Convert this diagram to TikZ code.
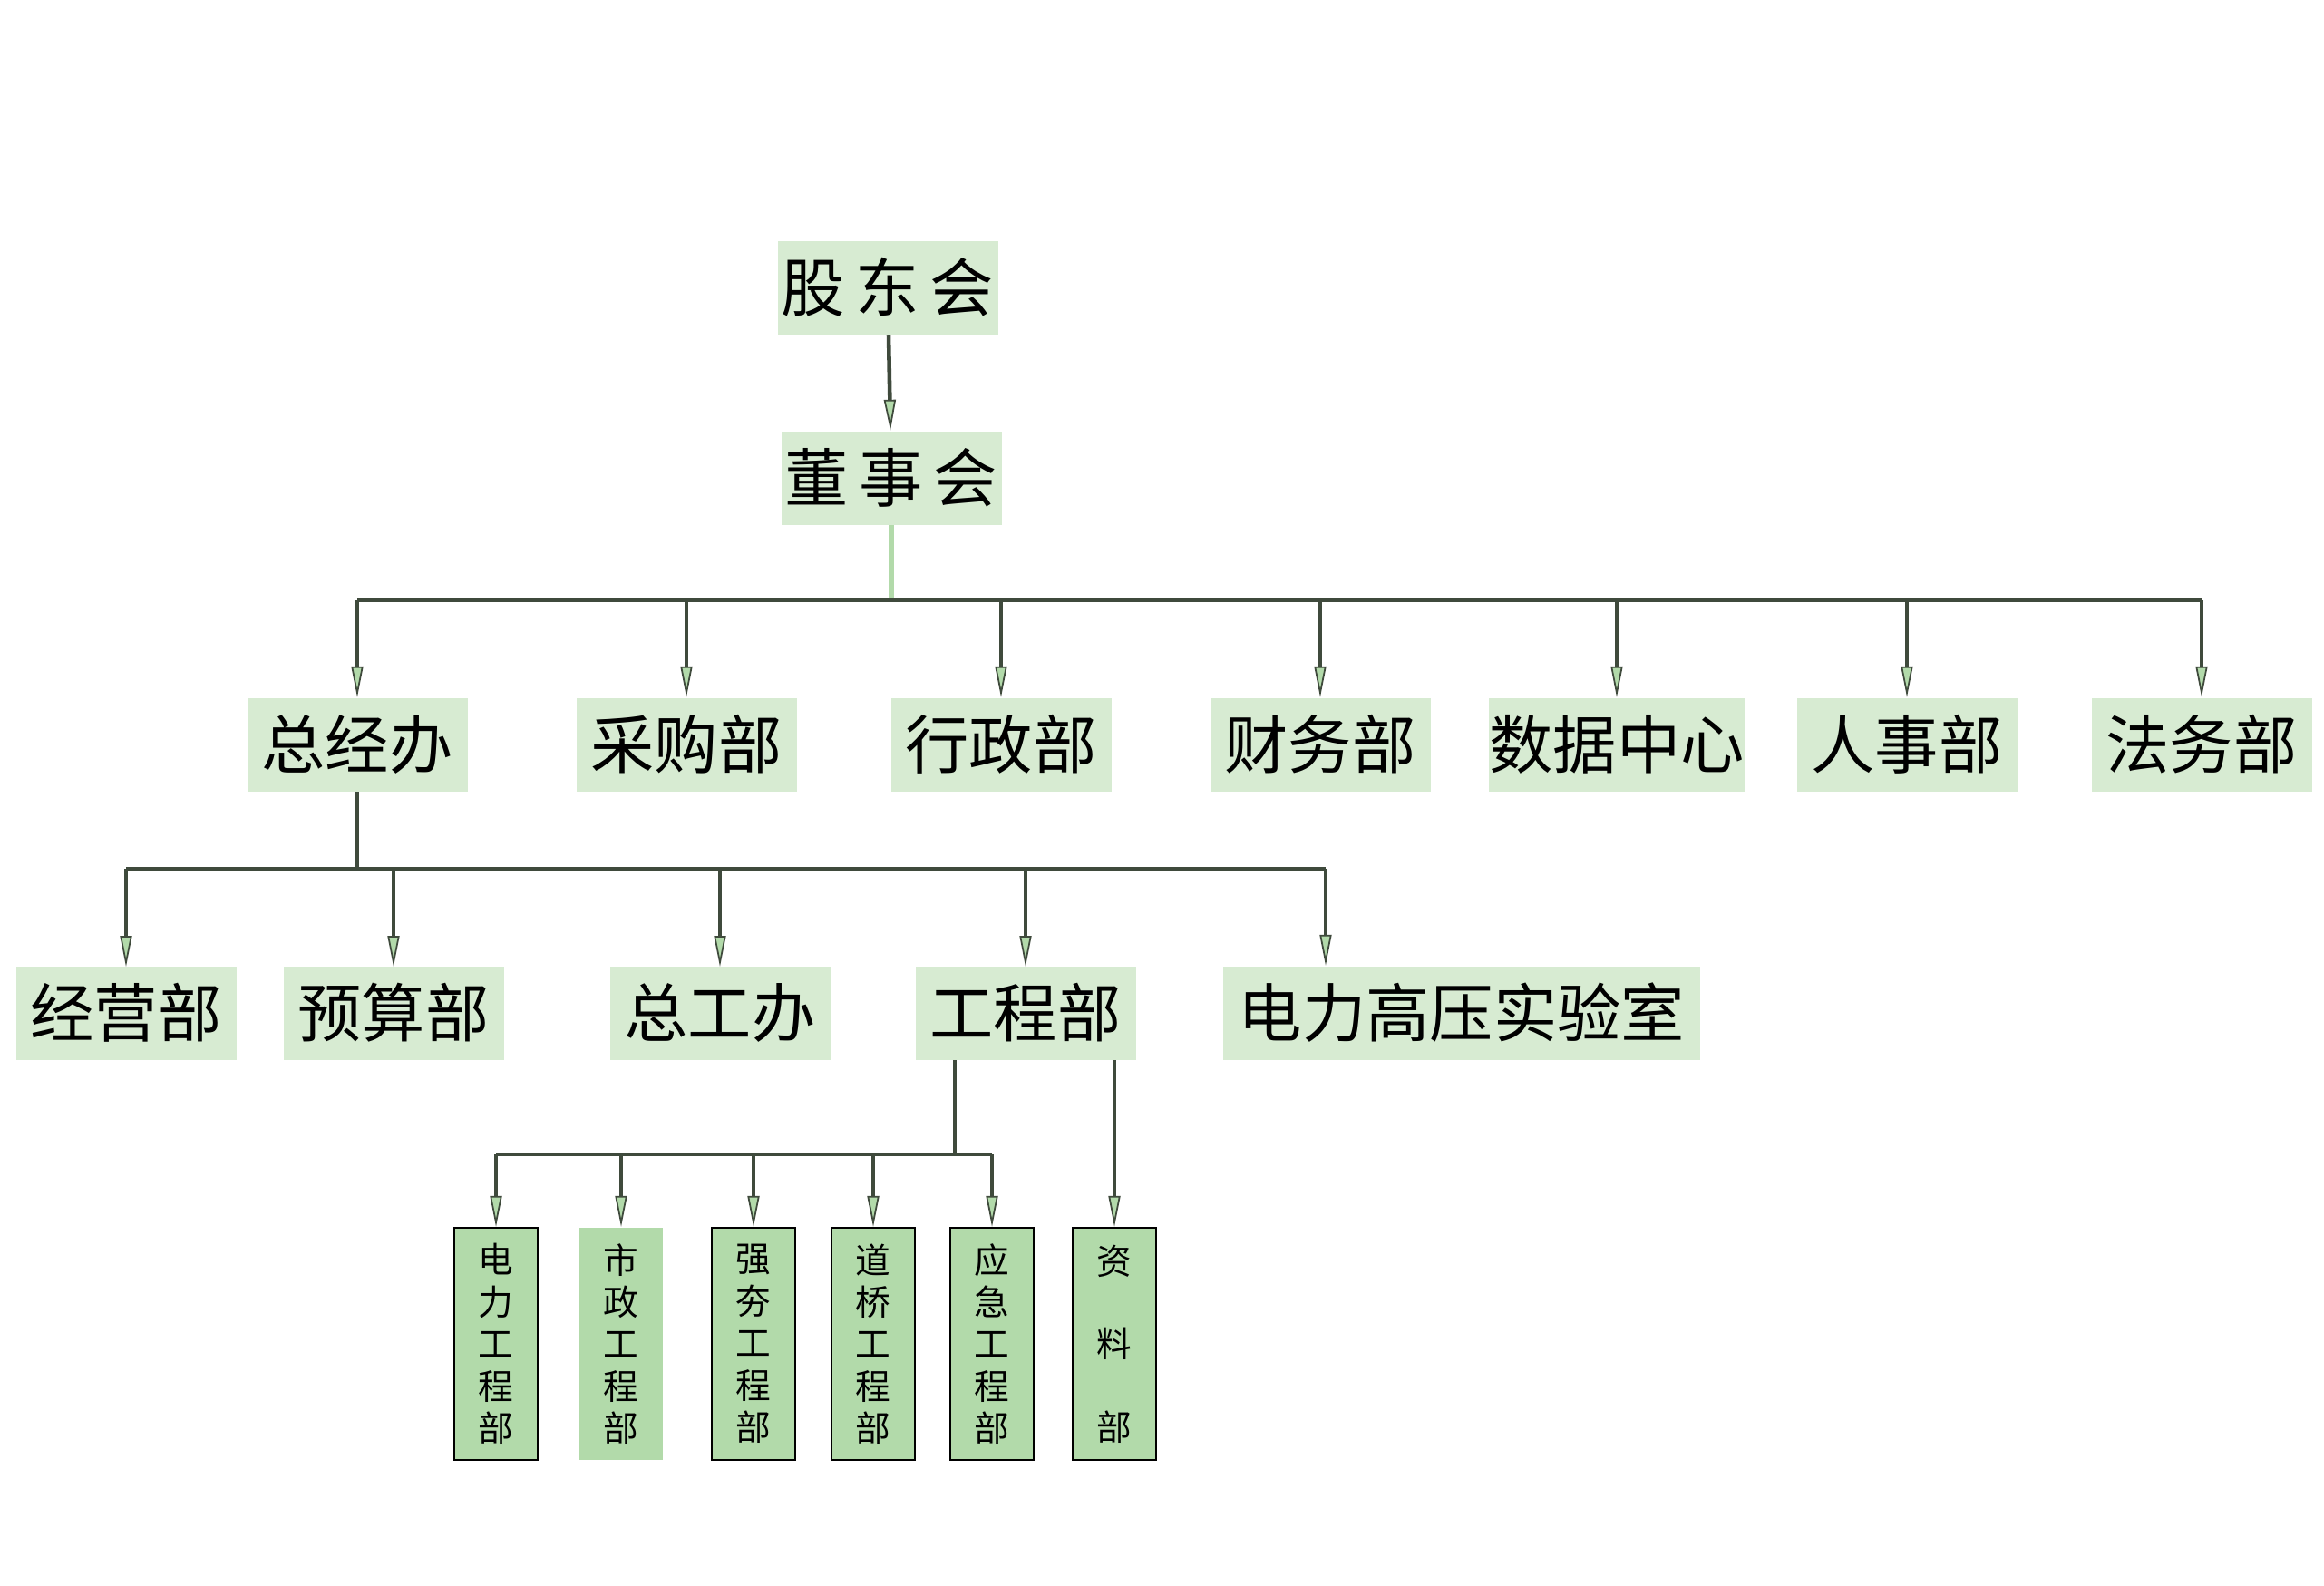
\documentclass[tikz,border=0pt]{standalone}
\usepackage{fontspec}
\newfontfamily\cjk{Noto Sans CJK SC}
\usetikzlibrary{arrows.meta}
\definecolor{boxgreen}{HTML}{D7EBD2}
\definecolor{subgreen}{HTML}{B2DAAA}
\definecolor{linegray}{HTML}{3F4A3C}
\tikzset{
	orgbox/.style={fill=boxgreen,minimum width=2.43cm,minimum height=1.03cm,inner sep=0pt,font=\cjk\fontsize{20}{24}\selectfont},
	subbox/.style={fill=subgreen,draw=black,line width=0.6pt,minimum width=0.92cm,minimum height=2.56cm,inner sep=0pt,align=center,font=\cjk\fontsize{11}{13.2}\selectfont},
	link/.style={draw=linegray,line width=1.3pt,-{Triangle[length=0.34cm,width=0.13cm,fill=subgreen,line width=0.5pt]}},
	bus/.style={draw=linegray,line width=1.3pt}
}
\begin{document}
\begin{tikzpicture}
	\useasboundingbox (0,0) rectangle (25.63,-17.48);
	% top
	\node[orgbox] (gudong) at (9.79,-3.17) {股\,东\,会};
	\node[orgbox] (dongshi) at (9.83,-5.27) {董\,事\,会};
	\draw[link] (gudong) -- (dongshi);
	% second row
	\node[orgbox] (zongjing) at (3.94,-8.21) {总经办};
	\node[orgbox] (caigou) at (7.57,-8.21) {采购部};
	\node[orgbox] (xingzheng) at (11.04,-8.21) {行政部};
	\node[orgbox] (caiwu) at (14.56,-8.21) {财务部};
	\node[orgbox] (shuju) at (17.83,-8.21) {数据中心};
	\node[orgbox] (renshi) at (21.03,-8.21) {人事部};
	\node[orgbox] (fawu) at (24.28,-8.21) {法务部};
	\coordinate (top bus) at (9.83,-6.62);
	\draw[draw=subgreen,line width=1.6pt] (dongshi.south) -- (top bus);
	\draw[bus] (zongjing.north |- top bus) -- (fawu.north |- top bus);
	\foreach \n in {zongjing,caigou,xingzheng,caiwu,shuju,renshi,fawu}
		\draw[link] (\n.north |- top bus) -- (\n.north);
	% third row
	\node[orgbox] (jingying) at (1.39,-11.17) {经营部};
	\node[orgbox] (yusuan) at (4.34,-11.17) {预算部};
	\node[orgbox] (zonggong) at (7.94,-11.17) {总工办};
	\node[orgbox] (gongcheng) at (11.31,-11.17) {工程部};
	\node[orgbox,minimum width=5.26cm] (shiyan) at (16.12,-11.17) {电力高压实验室};
	\coordinate (mid bus) at (3.94,-9.58);
	\coordinate (shiyan in) at (14.62,-9.58);
	\draw[bus] (zongjing.south) -- (mid bus);
	\draw[bus] (jingying.north |- mid bus) -- (shiyan in);
	\draw[link] (jingying.north |- mid bus) -- ++(0,-1.08);
	\draw[link] (yusuan.north |- mid bus) -- ++(0,-1.08);
	\draw[link] (zonggong.north |- mid bus) -- ++(0,-1.08);
	\draw[link] (gongcheng.north |- mid bus) -- ++(0,-1.08);
	\draw[link] (shiyan in) -- (shiyan in |- shiyan.north);
	% engineering departments
	\node[subbox] (dianli) at (5.47,-14.82) {电\\力\\工\\程\\部};
	\node[subbox,draw=none] (shizheng) at (6.85,-14.82) {市\\政\\工\\程\\部};
	\node[subbox] (qianghang) at (8.31,-14.82) {强\\夯\\工\\程\\部};
	\node[subbox] (daoqiao) at (9.63,-14.82) {道\\桥\\工\\程\\部};
	\node[subbox] (yingji) at (10.94,-14.82) {应\\急\\工\\程\\部};
	\node[subbox,font=\cjk\fontsize{11}{26}\selectfont] (ziliao) at (12.29,-14.82) {资\\料\\部};
	\coordinate (low bus) at (10.53,-12.73);
	\draw[bus] (gongcheng.south -| low bus) -- (low bus);
	\draw[bus] (dianli.north |- low bus) -- (yingji.north |- low bus);
	\foreach \n in {dianli,shizheng,qianghang,daoqiao,yingji}
		\draw[link] (\n.north |- low bus) -- (\n.north);
	\draw[link] (gongcheng.south -| ziliao.north) -- (ziliao.north);
\end{tikzpicture}
\end{document}
